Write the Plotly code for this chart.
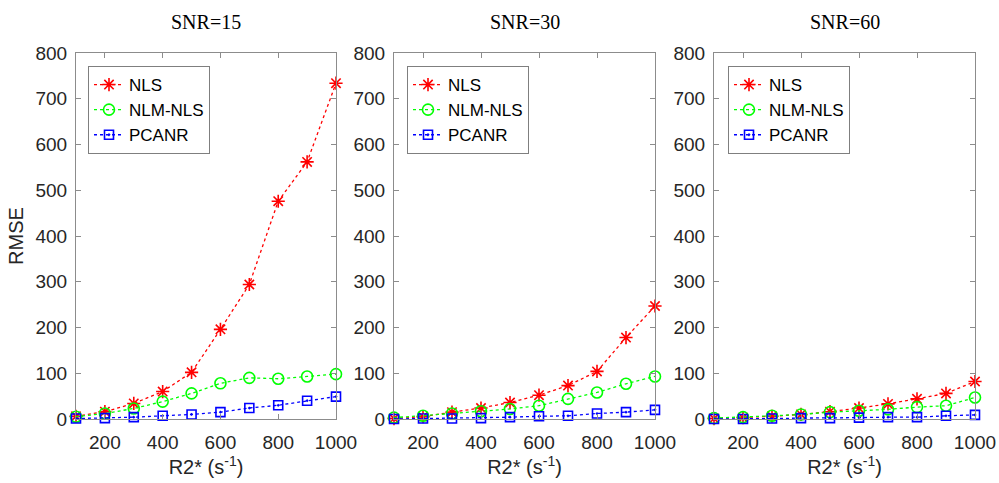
import plotly.graph_objects as go

r2 = [100, 200, 300, 400, 500, 600, 700, 800, 900, 1000]
titles = ["SNR=15", "SNR=30", "SNR=60"]
series_names = ["NLS", "NLM-NLS", "PCANR"]
x_ticks = [200, 400, 600, 800, 1000]
y_ticks = [0, 100, 200, 300, 400, 500, 600, 700, 800]

nls_15 = [6, 16, 34, 60, 102, 196, 294, 476, 562, 734]
nlm_15 = [5, 12, 23, 38, 56, 78, 90, 88, 93, 98]
pca_15 = [1, 2, 4, 7, 10, 15, 24, 30, 40, 49]

nls_30 = [1, 5, 15, 24, 36, 52, 73, 104, 178, 247]
nlm_30 = [3, 7, 12, 17, 22, 29, 44, 58, 77, 93]
pca_30 = [0, 1, 1, 2, 4, 6, 7, 12, 15, 20]

nls_60 = [1, 3, 6, 10, 16, 24, 33, 44, 56, 82]
nlm_60 = [2, 4, 7, 10, 15, 18, 21, 26, 29, 47]
pca_60 = [0, 0, 1, 2, 2, 3, 4, 4, 7, 9]

panels = [(nls_15, nlm_15, pca_15), (nls_30, nlm_30, pca_30), (nls_60, nlm_60, pca_60)]

colors = ["#FF0000", "#00FF00", "#0000FF"]
symbols = ["asterisk-open", "circle-open", "square-open-dot"]
msizes = [11, 11, 9]

W, H = 999, 483
xpix = [(76, 336), (394, 655), (714, 975)]
ytop, ybot = 53, 419
ydom = [1 - ybot / H, 1 - ytop / H]
leg_x = [88, 407, 728]
leg_y = 66

fig = go.Figure()
axis_color = "#8c8c8c"
sans = "Liberation Sans, Arial"
tick_font = dict(family=sans, size=19, color="#262626")
label_font = dict(family=sans, size=20, color="#262626")

for i, data in enumerate(panels):
    sfx = "" if i == 0 else str(i + 1)
    xa, ya, lg = "x" + sfx, "y" + sfx, "legend" + sfx
    for j, vals in enumerate(data):
        fig.add_trace(go.Scatter(
            x=r2, y=vals, name=series_names[j], mode="lines+markers",
            line=dict(color=colors[j], width=1.3, dash="dot"),
            marker=dict(symbol=symbols[j], size=msizes[j], color=colors[j],
                        line=dict(color=colors[j], width=1.6)),
            xaxis=xa, yaxis=ya, legend=lg, cliponaxis=False,
        ))
    axkw = dict(showline=True, linecolor=axis_color, linewidth=1, mirror="allticks",
                ticks="inside", ticklen=5, tickcolor=axis_color, showgrid=False,
                zeroline=False, tickfont=tick_font, automargin=False)
    xdom = [xpix[i][0] / W, xpix[i][1] / W]
    fig.layout["xaxis" + sfx] = dict(
        domain=xdom, range=[100, 1000], tickvals=x_ticks, anchor=ya,
        ticklabelstandoff=6,
        title=dict(text="R2* (s<sup>-1</sup>)", standoff=6, font=label_font),
        **axkw)
    ykw = dict(domain=ydom, range=[0, 800], tickvals=y_ticks, anchor=xa,
               ticklabelstandoff=4, **axkw)
    if i == 0:
        ykw["title"] = dict(text="RMSE", standoff=6, font=label_font)
    fig.layout["yaxis" + sfx] = ykw
    fig.layout[lg] = dict(
        x=leg_x[i] / W, y=1 - leg_y / H, xanchor="left", yanchor="top",
        bgcolor="white", bordercolor="#7f7f7f", borderwidth=1,
        font=dict(family=sans, size=17, color="#000000"),
        tracegroupgap=0, itemwidth=30,
    )
    fig.add_annotation(
        text=titles[i], xref="paper", yref="paper",
        x=(xdom[0] + xdom[1]) / 2, y=1 - 22 / H, xanchor="center", yanchor="middle",
        showarrow=False, font=dict(family="Liberation Serif, Times New Roman", size=20, color="#000000"),
    )

fig.update_layout(
    width=W, height=H, margin=dict(l=0, r=0, t=0, b=0, autoexpand=False),
    paper_bgcolor="white", plot_bgcolor="white", showlegend=True,
)

fig.write_html("out.html")
